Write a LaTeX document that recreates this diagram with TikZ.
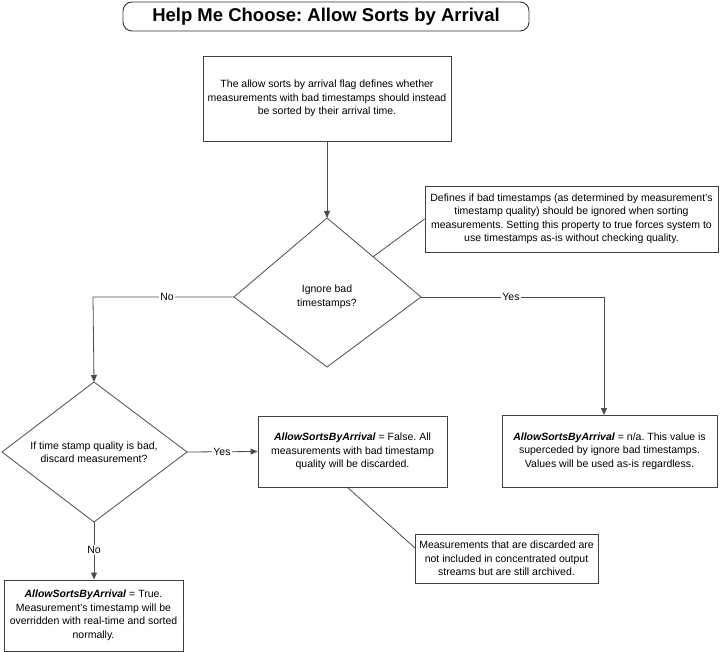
\documentclass[tikz,border=0pt]{standalone}
\usepackage{fontspec}
\setmainfont{Liberation Sans}
\usetikzlibrary{arrows.meta,calc}
\frenchspacing
\begin{document}
\begin{tikzpicture}[x=1pt,y=-1pt,
  line/.style={draw=black!70, line width=0.8pt},
  arr/.style={line, -{Triangle[length=7pt,width=6pt]}},
  box/.style={draw=black!75, line width=0.9pt, fill=white, minimum width=#1, inner sep=0pt, align=center, font=\fontsize{10.5}{13.5}\selectfont},
  txt/.style={align=center, inner sep=0pt, font=\fontsize{10.5}{13.5}\selectfont},
  lbl/.style={fill=white, inner sep=1pt, font=\fontsize{10.5}{12}\selectfont}]
\useasboundingbox (0,0) rectangle (727,652);
% title
\node[draw=black!80, line width=0.9pt, rounded corners=9pt, minimum width=406pt, minimum height=29pt, font=\fontsize{18.5}{21}\selectfont\bfseries] (title) at (326,16.5) {Help Me Choose: Allow Sorts by Arrival};
% top box
\node[box=248pt, minimum height=85pt] (top) at (327,98.5) {The allow sorts by arrival flag defines whether\\measurements with bad timestamps should instead\\be sorted by their arrival time.};
% diamond 1
\coordinate (d1t) at (327,218);
\coordinate (d1r) at (421,297);
\coordinate (d1b) at (327,367);
\coordinate (d1l) at (234,297);
\draw[line] (d1t) -- (d1r) -- (d1b) -- (d1l) -- cycle;
\node[txt] (d1) at (327,297) {Ignore bad\\timestamps?};
% note 1
\node[box=293pt, minimum height=66pt] (note1) at (571.5,219) {Defines if bad timestamps (as determined by measurement's\\timestamp quality) should be ignored when sorting\\measurements. Setting this property to true forces system to\\use timestamps as-is without checking quality.};
\coordinate (n1a) at ($(d1t)!0.49!(d1r)$);
\draw[line] (note1.west) -- (n1a);
\draw[arr] (top.south) -- (d1t);
% right box
\node[box=215pt, minimum height=72pt] (rbox) at (609.5,451) {\textbf{\textit{AllowSortsByArrival}} = n/a. This value is\\superceded by ignore bad timestamps.\\Values will be used as-is regardless.};
\coordinate (yc1) at (604,297);
\coordinate (yend1) at (604,415);
\draw[arr] (d1r) -- (yc1) -- (yend1);
\node[lbl] (yes1) at (511,297) {Yes};
% diamond 2
\coordinate (d2t) at (94,382);
\coordinate (d2r) at (187,452);
\coordinate (d2b) at (94,522);
\coordinate (d2l) at (2,452);
\draw[line] (d2t) -- (d2r) -- (d2b) -- (d2l) -- cycle;
\node[txt] (d2) at (94,452) {If time stamp quality is bad,\\discard measurement?};
\coordinate (nc1) at (93,297);
\draw[arr] (d1l) -- (nc1) -- (d2t);
\node[lbl] (no1) at (167,297) {No};
% middle box
\node[box=189pt, minimum height=71pt] (mbox) at (352.5,451.5) {\textbf{\textit{AllowSortsByArrival}} = False. All\\measurements with bad timestamp\\quality will be discarded.};
\draw[arr] (d2r) -- (mbox.west);
\node[lbl] (yes2) at (222,452) {Yes};
% note 2
\node[box=183pt, minimum height=49pt] (note2) at (506.5,558.5) {Measurements that are discarded are\\not included in concentrated output\\streams but are still archived.};
\coordinate (m2a) at (347,487);
\coordinate (m2b) at (415,548);
\draw[line] (m2a) -- (m2b);
% bottom box
\node[box=179pt, minimum height=71pt] (bbox) at (93.5,615.5) {\textbf{\textit{AllowSortsByArrival}} = True.\\Measurement's timestamp will be\\overridden with real-time and sorted\\normally.};
\draw[arr] (d2b) -- (d2b |- bbox.north);
\node[lbl] (no2) at (94,550) {No};
\end{tikzpicture}
\end{document}
